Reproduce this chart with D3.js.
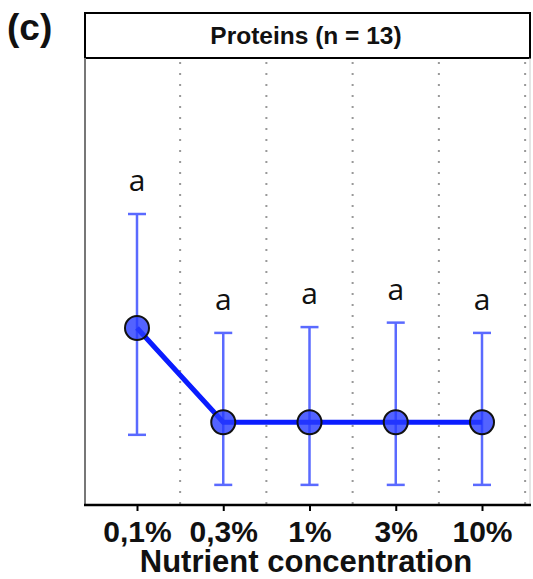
<!DOCTYPE html>
<html>
<head>
  <title>Proteins - Nutrient concentration</title>
  <script src="https://d3js.org/d3.v7.min.js"></script>
  <style>
    body { margin: 0; background: #fff; }
  </style>
</head>
<body>
  <div id="chart"></div>

  <script>
    // values (arbitrary units, no y axis shown)
    var concentrations = ["0,1%", "0,3%", "1%", "3%", "10%"];
    var means = [39.6, 18.5, 18.5, 18.5, 18.5];
    var lower = [15.7, 4.5, 4.5, 4.5, 4.5];
    var upper = [65.1, 38.5, 39.8, 40.8, 38.5];
    var letters = ["a", "a", "a", "a", "a"];

    var W = 533, H = 579;
    var panel = {left: 85, right: 531, top: 58, bottom: 505};

    var svg = d3.select("#chart")
      .append("svg")
      .attr("width", W)
      .attr("height", H);

    var x = d3.scaleLinear()
      .domain([0, concentrations.length - 1])
      .range([137, 482]);

    var y = d3.scaleLinear()
      .domain([0, 100])
      .range([panel.bottom, panel.top]);

    // panel label
    svg.append("text")
      .attr("x", 7)
      .attr("y", 40)
      .attr("font-family", "Liberation Sans, Arial, sans-serif")
      .attr("font-weight", "bold")
      .attr("font-size", 37)
      .attr("fill", "#111")
      .text("(c)");

    // facet strip
    svg.append("rect")
      .attr("x", panel.left)
      .attr("y", 13)
      .attr("width", panel.right - 1 - panel.left)
      .attr("height", panel.top - 13)
      .attr("fill", "#fff")
      .attr("stroke", "#000")
      .attr("stroke-width", 2);

    svg.append("text")
      .attr("x", 306)
      .attr("y", 44)
      .attr("text-anchor", "middle")
      .attr("font-family", "Liberation Sans, Arial, sans-serif")
      .attr("font-weight", "bold")
      .attr("font-size", 24.5)
      .attr("fill", "#111")
      .text("Proteins (n = 13)");

    // dotted separators between categories
    var seps = d3.range(concentrations.length).map(function(i) { return i + 0.5; });
    svg.append("g")
      .selectAll("line")
      .data(seps)
      .join("line")
      .attr("x1", function(d) { return x(d); })
      .attr("x2", function(d) { return x(d); })
      .attr("y1", panel.top + 4)
      .attr("y2", panel.bottom)
      .attr("stroke", "#999")
      .attr("stroke-width", 2)
      .attr("stroke-dasharray", "2,9");

    // panel borders
    svg.append("line")
      .attr("x1", panel.left).attr("x2", panel.left)
      .attr("y1", panel.top).attr("y2", panel.bottom)
      .attr("stroke", "#777").attr("stroke-width", 2);
    svg.append("line")
      .attr("x1", panel.right - 1).attr("x2", panel.right - 1)
      .attr("y1", panel.top).attr("y2", panel.bottom)
      .attr("stroke", "#ccc").attr("stroke-width", 1);

    var data = concentrations.map(function(c, i) {
      return {i: i, c: c, m: means[i], lo: lower[i], hi: upper[i], l: letters[i]};
    });

    // error bars
    var eb = svg.append("g")
      .attr("stroke", "#5a6aff")
      .attr("stroke-width", 2.5);
    eb.selectAll(".stem")
      .data(data)
      .join("line")
      .attr("x1", function(d) { return x(d.i); })
      .attr("x2", function(d) { return x(d.i); })
      .attr("y1", function(d) { return y(d.lo); })
      .attr("y2", function(d) { return y(d.hi); });
    eb.selectAll(".capHi")
      .data(data)
      .join("line")
      .attr("x1", function(d) { return x(d.i) - 9; })
      .attr("x2", function(d) { return x(d.i) + 9; })
      .attr("y1", function(d) { return y(d.hi); })
      .attr("y2", function(d) { return y(d.hi); });
    eb.selectAll(".capLo")
      .data(data)
      .join("line")
      .attr("x1", function(d) { return x(d.i) - 9; })
      .attr("x2", function(d) { return x(d.i) + 9; })
      .attr("y1", function(d) { return y(d.lo); })
      .attr("y2", function(d) { return y(d.lo); });

    // mean line
    var line = d3.line()
      .x(function(d) { return x(d.i); })
      .y(function(d) { return y(d.m); });

    svg.append("path")
      .datum(data)
      .attr("d", line)
      .attr("fill", "none")
      .attr("stroke", "#0a1cff")
      .attr("stroke-width", 5);

    // points
    svg.append("g")
      .selectAll("circle")
      .data(data)
      .join("circle")
      .attr("cx", function(d) { return x(d.i); })
      .attr("cy", function(d) { return y(d.m); })
      .attr("r", 12)
      .attr("fill", "rgba(40,60,255,0.8)")
      .attr("stroke", "#111")
      .attr("stroke-width", 2);

    // significance letters
    svg.append("g")
      .selectAll("text")
      .data(data)
      .join("text")
      .attr("x", function(d) { return x(d.i); })
      .attr("y", function(d) { return y(d.hi) - 23; })
      .attr("text-anchor", "middle")
      .attr("font-family", "Open Sans, DejaVu Sans, sans-serif")
      .attr("font-size", 30)
      .attr("fill", "#111")
      .text(function(d) { return d.l; });

    // x axis
    var xAxis = svg.append("g")
      .attr("transform", "translate(0," + panel.bottom + ")")
      .call(d3.axisBottom(x)
        .tickValues(d3.range(concentrations.length))
        .tickFormat(function(i) { return concentrations[i]; })
        .tickSize(6)
        .tickSizeOuter(0));
    xAxis.select(".domain")
      .attr("d", "M" + (panel.left - 1) + ",0H" + panel.right)
      .attr("stroke", "#000")
      .attr("stroke-width", 2.5);
    xAxis.selectAll(".tick line").attr("stroke-width", 2);
    xAxis.selectAll(".tick text")
      .attr("y", 37)
      .attr("dy", 0)
      .attr("font-family", "Liberation Sans, Arial, sans-serif")
      .attr("font-weight", "bold")
      .attr("font-size", 30)
      .attr("fill", "#111");

    svg.append("text")
      .attr("x", 306)
      .attr("y", 572)
      .attr("text-anchor", "middle")
      .attr("font-family", "Liberation Sans, Arial, sans-serif")
      .attr("font-weight", "bold")
      .attr("font-size", 31)
      .attr("fill", "#111")
      .text("Nutrient concentration");
  </script>
</body>
</html>
